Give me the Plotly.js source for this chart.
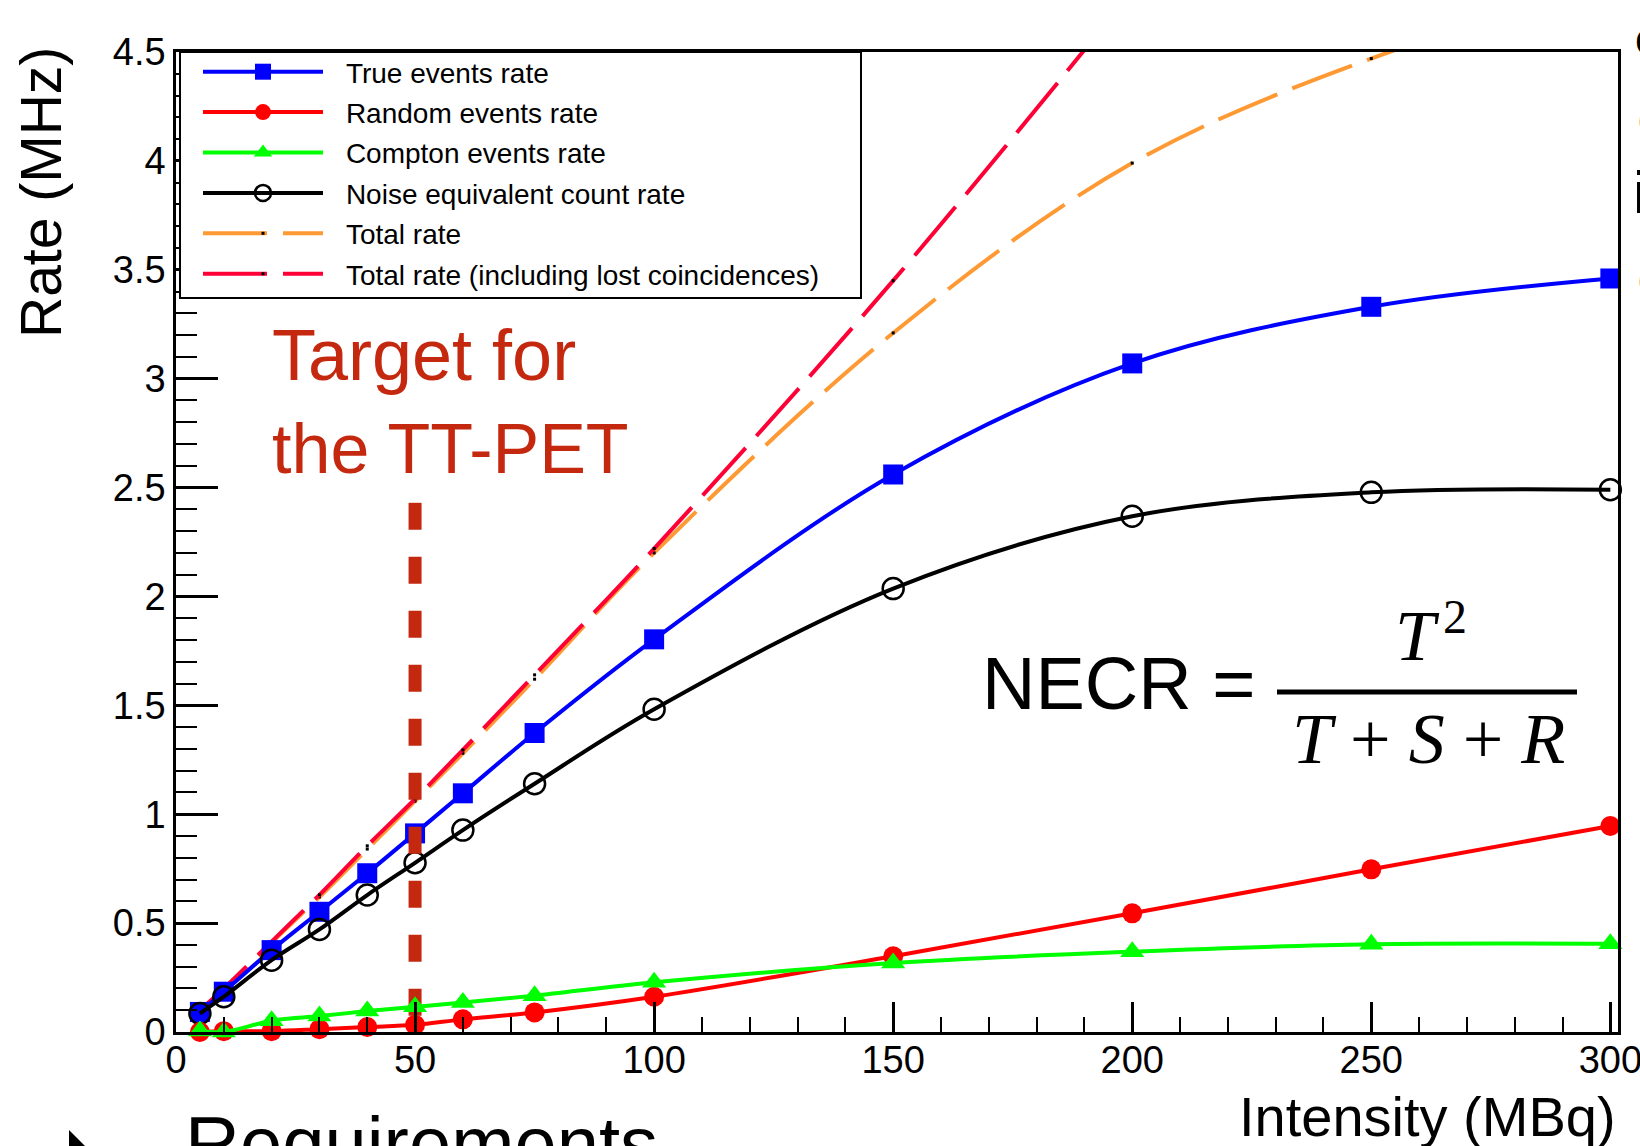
<!DOCTYPE html>
<html>
<head>
<meta charset="utf-8">
<script src="https://cdn.plot.ly/plotly-3.0.1.min.js"></script>
<style>
  html, body { margin: 0; padding: 0; overflow: hidden; background: #ffffff; }
  #chart { width: 1640px; height: 1146px; }
</style>
</head>
<body>
<div id="chart"></div>
<script>
// Source activity (MBq) at which the rates were simulated
const intensity = [5, 10, 20, 30, 40, 50, 60, 75, 100, 150, 200, 250, 300];
const intensityLost = [5, 10, 20, 30, 40, 50, 60, 75, 100, 150, 200];

// Rates in MHz
const trueRate = [0.092, 0.185, 0.376, 0.552, 0.729, 0.912, 1.096, 1.373, 1.803, 2.56, 3.07, 3.33, 3.46];
const randomRate = [0.0, 0.004, 0.004, 0.013, 0.023, 0.033, 0.058, 0.09, 0.162, 0.348, 0.545, 0.747, 0.946];
const comptonRate = [0.005, 0.0, 0.052, 0.073, 0.096, 0.116, 0.135, 0.167, 0.228, 0.317, 0.369, 0.403, 0.405];
const necrRate = [0.085, 0.162, 0.33, 0.471, 0.629, 0.777, 0.927, 1.14, 1.482, 2.036, 2.368, 2.478, 2.49];
const totalRate = [0.1, 0.19, 0.41, 0.62, 0.84, 1.06, 1.28, 1.62, 2.2, 3.21, 3.99, 4.47, 4.8];
const totalLostRate = [0.1, 0.2, 0.415, 0.63, 0.855, 1.07, 1.295, 1.64, 2.22, 3.45, 4.78];

// Design target of the scanner
const targetIntensity = [50, 50];
const targetRate = [2.43, 0];

const seriesNames = [
  'True events rate',
  'Random events rate',
  'Compton events rate',
  'Noise equivalent count rate',
  'Total rate',
  'Total rate (including lost coincidences)'
];

// plot area in pixels: left 176, right 1618, top 52, bottom 1032
const AREA = { l: 176, r: 1618, t: 52, b: 1032 };
const px = v => (v - AREA.l) / (AREA.r - AREA.l);
const py = v => (AREA.b - v) / (AREA.b - AREA.t);

const SANS = 'Liberation Sans, Arial, Helvetica, sans-serif';
const SERIF = 'Liberation Serif, Times New Roman, serif';
const PAD = '\u00a0\u00a0\u200a';

function solid(name, x, y, color, symbol, size, rank, extra) {
  return Object.assign({
    type: 'scatter', mode: 'lines+markers', name: PAD + name,
    x: x, y: y, legendrank: rank, legendgroup: 'g' + rank,
    line: { color: color, width: 4, shape: 'spline', smoothing: 1 },
    marker: { color: color, symbol: symbol, size: size },
    cliponaxis: false, hoverinfo: 'skip'
  }, extra || {});
}

function dashed(name, x, y, color, rank) {
  return {
    type: 'scatter', mode: 'lines+markers', name: PAD + name,
    x: x, y: y, legendrank: rank, legendgroup: 'g' + rank,
    line: { color: color, width: 4, dash: '64px,16px', shape: 'spline', smoothing: 1 },
    marker: { color: '#000000', symbol: 'square', size: 3 },
    cliponaxis: true, hoverinfo: 'skip'
  };
}

const traces = [
  dashed(seriesNames[4], intensity, totalRate, '#ff9933', 5),
  dashed(seriesNames[5], intensityLost, totalLostRate, '#ff0036', 6),
  solid(seriesNames[0], intensity, trueRate, '#0000ff', 'square', 20, 1),
  solid(seriesNames[3], intensity, necrRate, '#000000', 'circle-open', 21, 4,
        { marker: { color: '#000000', symbol: 'circle-open', size: 21, line: { width: 2.5, color: '#000000' } } }),
  {
    type: 'scatter', mode: 'lines', x: targetIntensity, y: targetRate,
    line: { color: '#c4280e', width: 13, dash: '27px,27px' },
    showlegend: false, hoverinfo: 'skip'
  },
  solid(seriesNames[1], intensity, randomRate, '#ff0000', 'circle', 20, 2),
  solid(seriesNames[2], intensity, comptonRate, '#00ff00', 'triangle-up', 21, 3)
];

const axisFont = { family: SANS, size: 38, color: '#000000' };

const layout = {
  width: 1640, height: 1146,
  margin: { l: AREA.l, r: 1640 - AREA.r, t: AREA.t, b: 1146 - AREA.b, pad: 0 },
  paper_bgcolor: '#ffffff', plot_bgcolor: '#ffffff',
  showlegend: true,
  xaxis: {
    range: [0, 301.6], tick0: 0, dtick: 50,
    showline: true, linecolor: '#000000', linewidth: 2.5, mirror: true,
    ticks: 'inside', ticklen: 30, tickwidth: 2.5, tickcolor: '#000000',
    minor: { dtick: 10, ticks: 'inside', ticklen: 15, tickwidth: 2, tickcolor: '#000000' },
    showgrid: false, zeroline: false,
    tickfont: axisFont, ticklabelstandoff: -7, ticklabeloverflow: 'allow'
  },
  yaxis: {
    range: [0, 4.5], tick0: 0, dtick: 0.5,
    showline: true, linecolor: '#000000', linewidth: 2.5, mirror: true,
    ticks: 'inside', ticklen: 42, tickwidth: 2.5, tickcolor: '#000000',
    minor: { dtick: 0.1, ticks: 'inside', ticklen: 21, tickwidth: 2, tickcolor: '#000000' },
    showgrid: false, zeroline: false,
    tickfont: axisFont, ticklabelstandoff: 0, ticklabeloverflow: 'allow'
  },
  legend: {
    x: px(182), y: py(47), xanchor: 'left', yanchor: 'top',
    bgcolor: 'rgba(0,0,0,0)', borderwidth: 0,
    font: { family: SANS, size: 28, color: '#000000' },
    itemwidth: 120, indentation: 16,
    traceorder: 'grouped', tracegroupgap: 1,
    itemclick: false, itemdoubleclick: false
  },
  shapes: [
    // legend box
    { type: 'rect', xref: 'paper', yref: 'paper', layer: 'above',
      x0: px(180), x1: px(861), y0: py(298), y1: py(52),
      fillcolor: '#ffffff', line: { color: '#000000', width: 2 } },
    // fraction bar of the NECR definition
    { type: 'line', xref: 'paper', yref: 'paper',
      x0: px(1277), x1: px(1577), y0: py(692), y1: py(692),
      line: { color: '#000000', width: 5 } },
    // slide bullet
    { type: 'path', xref: 'paper', yref: 'paper',
      path: 'M ' + px(69) + ',' + py(1130) + ' L ' + px(99) + ',' + py(1160) +
            ' L ' + px(69) + ',' + py(1190) + ' Z',
      fillcolor: '#000000', line: { width: 0 } }
  ],
  annotations: [
    { text: 'Rate (MHz)', xref: 'paper', yref: 'paper', x: px(40.5), y: py(45),
      xanchor: 'center', yanchor: 'top', textangle: -90, showarrow: false,
      font: { family: SANS, size: 57, color: '#000000' } },
    { text: 'Intensity (MBq)', xref: 'paper', yref: 'paper', x: 1, y: py(1116),
      xanchor: 'right', yanchor: 'middle', showarrow: false,
      font: { family: SANS, size: 56, color: '#000000' } },
    { text: 'Target for', xref: 'paper', yref: 'paper', x: px(270), y: py(355),
      xanchor: 'left', yanchor: 'middle', showarrow: false,
      font: { family: SANS, size: 72, color: '#c4280e' } },
    { text: 'the TT-PET', xref: 'paper', yref: 'paper', x: px(270), y: py(449),
      xanchor: 'left', yanchor: 'middle', showarrow: false,
      font: { family: SANS, size: 70, color: '#c4280e' } },
    { text: 'NECR =', xref: 'paper', yref: 'paper', x: px(980), y: py(683),
      xanchor: 'left', yanchor: 'middle', showarrow: false,
      font: { family: SANS, size: 74, color: '#000000' } },
    { text: '<i>T</i>', xref: 'paper', yref: 'paper', x: px(1417), y: py(636),
      xanchor: 'center', yanchor: 'middle', showarrow: false,
      font: { family: SERIF, size: 72, color: '#000000' } },
    { text: '2', xref: 'paper', yref: 'paper', x: px(1441), y: py(617),
      xanchor: 'left', yanchor: 'middle', showarrow: false,
      font: { family: SERIF, size: 48, color: '#000000' } },
    { text: '<i>T</i> + <i>S</i> + <i>R</i>', xref: 'paper', yref: 'paper', x: px(1428), y: py(739),
      xanchor: 'center', yanchor: 'middle', showarrow: false,
      font: { family: SERIF, size: 72, color: '#000000' } },
    { text: 'Requirements', xref: 'paper', yref: 'paper', x: px(183), y: py(1143),
      xanchor: 'left', yanchor: 'middle', showarrow: false,
      font: { family: SANS, size: 76, color: '#000000' } },
    { text: 'c', xref: 'paper', yref: 'paper', x: px(1633), y: py(39),
      xanchor: 'left', yanchor: 'middle', showarrow: false,
      font: { family: SANS, size: 44, color: '#000000' } },
    { text: 'o', xref: 'paper', yref: 'paper', x: px(1636), y: py(118),
      xanchor: 'left', yanchor: 'middle', showarrow: false,
      font: { family: SANS, size: 44, color: '#000000' } },
    { text: 'i', xref: 'paper', yref: 'paper', x: px(1631), y: py(192),
      xanchor: 'left', yanchor: 'middle', showarrow: false,
      font: { family: SANS, size: 60, color: '#000000' } },
    { text: 'o', xref: 'paper', yref: 'paper', x: px(1636), y: py(278),
      xanchor: 'left', yanchor: 'middle', showarrow: false,
      font: { family: SANS, size: 44, color: '#000000' } }
  ]
};

Plotly.newPlot('chart', traces, layout, { displayModeBar: false, responsive: false });
</script>
</body>
</html>
